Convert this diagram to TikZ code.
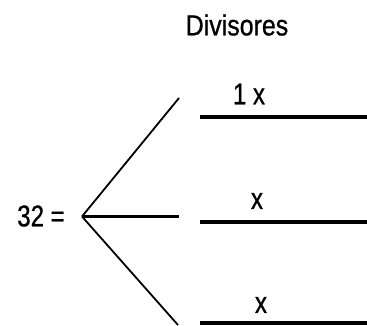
\documentclass[tikz,border=0pt]{standalone}
\usepackage{fontspec}
\setmainfont{Liberation Sans}
\newfontfamily\narrowA[FakeStretch=0.8,FakeBold=0.8]{Liberation Sans}
\newfontfamily\narrowB[FakeStretch=0.86,FakeBold=0.8]{Liberation Sans}
\begin{document}
\begin{tikzpicture}[x=1pt,y=-1pt,
  lab/.style={inner sep=0pt, font=\narrowA\fontsize{30}{30}\selectfont},
  thin branch/.style={line width=1.8pt},
  mid branch/.style={line width=3.2pt},
  slot/.style={line width=4pt}]
\useasboundingbox (0,0) rectangle (367,326);
\node[inner sep=0pt, font=\narrowB\fontsize{29}{29}\selectfont] (title) at (237,25) {Divisores};
\node[lab] (n32) at (41,216) {32 =};
\coordinate (apex) at (82,216.5);
\coordinate (up) at (179,98);
\coordinate (mid) at (179,216.5);
\coordinate (down) at (178,325);
\draw[thin branch] (apex) -- (up);
\draw[mid branch] (apex) -- (mid);
\draw[thin branch] (apex) -- (down);
\coordinate (s1a) at (200,117);
\coordinate (s1b) at (367,117);
\coordinate (s2a) at (200,221.5);
\coordinate (s2b) at (367,221.5);
\coordinate (s3a) at (200,323);
\coordinate (s3b) at (367,323);
\draw[slot] (s1a) -- (s1b);
\draw[slot] (s2a) -- (s2b);
\draw[slot] (s3a) -- (s3b);
\node[lab] (l1) at (249,94) {1 x};
\node[lab] (l2) at (257,201) {x};
\node[lab] (l3) at (261,305) {x};
\end{tikzpicture}
\end{document}
